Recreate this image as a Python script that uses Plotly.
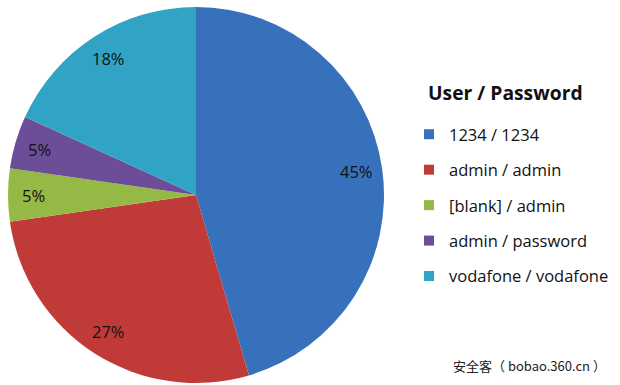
import math
import plotly.graph_objects as go

# ---- data ----
categories = ["1234 / 1234", "admin / admin", "[blank] / admin", "admin / password", "vodafone / vodafone"]
counts = [10, 6, 1, 1, 4]
colors = ["#3871bb", "#c03b38", "#94ba45", "#6b4d98", "#31a3c5"]
legend_title = "User / Password"
watermark = "安全客（ bobao.360.cn ）"

W, H = 620, 385
# pie placement (pixels)
CX, CY, R = 196, 195, 188
dom_x = [(CX - R) / W, (CX + R) / W]
dom_y = [1 - (CY + R) / H, 1 - (CY - R) / H]

fig = go.Figure()
fig.add_trace(go.Pie(
    labels=categories, values=counts, sort=False, direction="clockwise",
    rotation=0, marker=dict(colors=colors, line=dict(width=0)),
    textinfo="none", hoverinfo="label+percent", showlegend=False,
    domain=dict(x=dom_x, y=dom_y),
))

# percentage labels placed along each slice's mid-angle
total = sum(counts)
acc = 0
annotations = []
for c in counts:
    mid = (acc + c / 2) / total * 2 * math.pi
    acc += c
    px = CX + 0.865 * R * math.sin(mid)
    py = CY - 0.865 * R * math.cos(mid)
    annotations.append(dict(
        x=px / W, y=1 - py / H, xref="paper", yref="paper",
        xanchor="center", yanchor="middle",
        text=f"{round(100 * c / total)}%", showarrow=False,
        font=dict(family="Open Sans", size=16.5, color="#111111"),
    ))

# legend entries (one per category)
for name, col in zip(categories, colors):
    fig.add_trace(go.Scatter(
        x=[None], y=[None], mode="markers", name=name, legendgroup=name,
        marker=dict(symbol="square", size=10, color=col),
    ))

annotations.append(dict(
    x=426 / W, y=1 - 93 / H, xref="paper", yref="paper", xanchor="left", yanchor="middle",
    text=f"<b>{legend_title}</b>", showarrow=False,
    font=dict(family="Open Sans", size=19.3, color="#111111"),
))
annotations.append(dict(
    x=451 / W, y=1 - 365 / H, xref="paper", yref="paper", xanchor="left", yanchor="middle",
    text=watermark, showarrow=False,
    font=dict(family="Noto Sans CJK SC", size=13, color="#222222"),
))

fig.update_layout(
    width=W, height=H, margin=dict(l=0, r=0, t=0, b=0),
    paper_bgcolor="white", plot_bgcolor="white",
    xaxis=dict(visible=False), yaxis=dict(visible=False),
    legend=dict(
        x=409 / W, y=1 - 117 / H, xanchor="left", yanchor="top",
        traceorder="grouped", tracegroupgap=11,
        font=dict(family="Open Sans", size=16.5, color="#111111"),
        bgcolor="rgba(0,0,0,0)",
    ),
    annotations=annotations,
)

fig.write_html("out.html")
